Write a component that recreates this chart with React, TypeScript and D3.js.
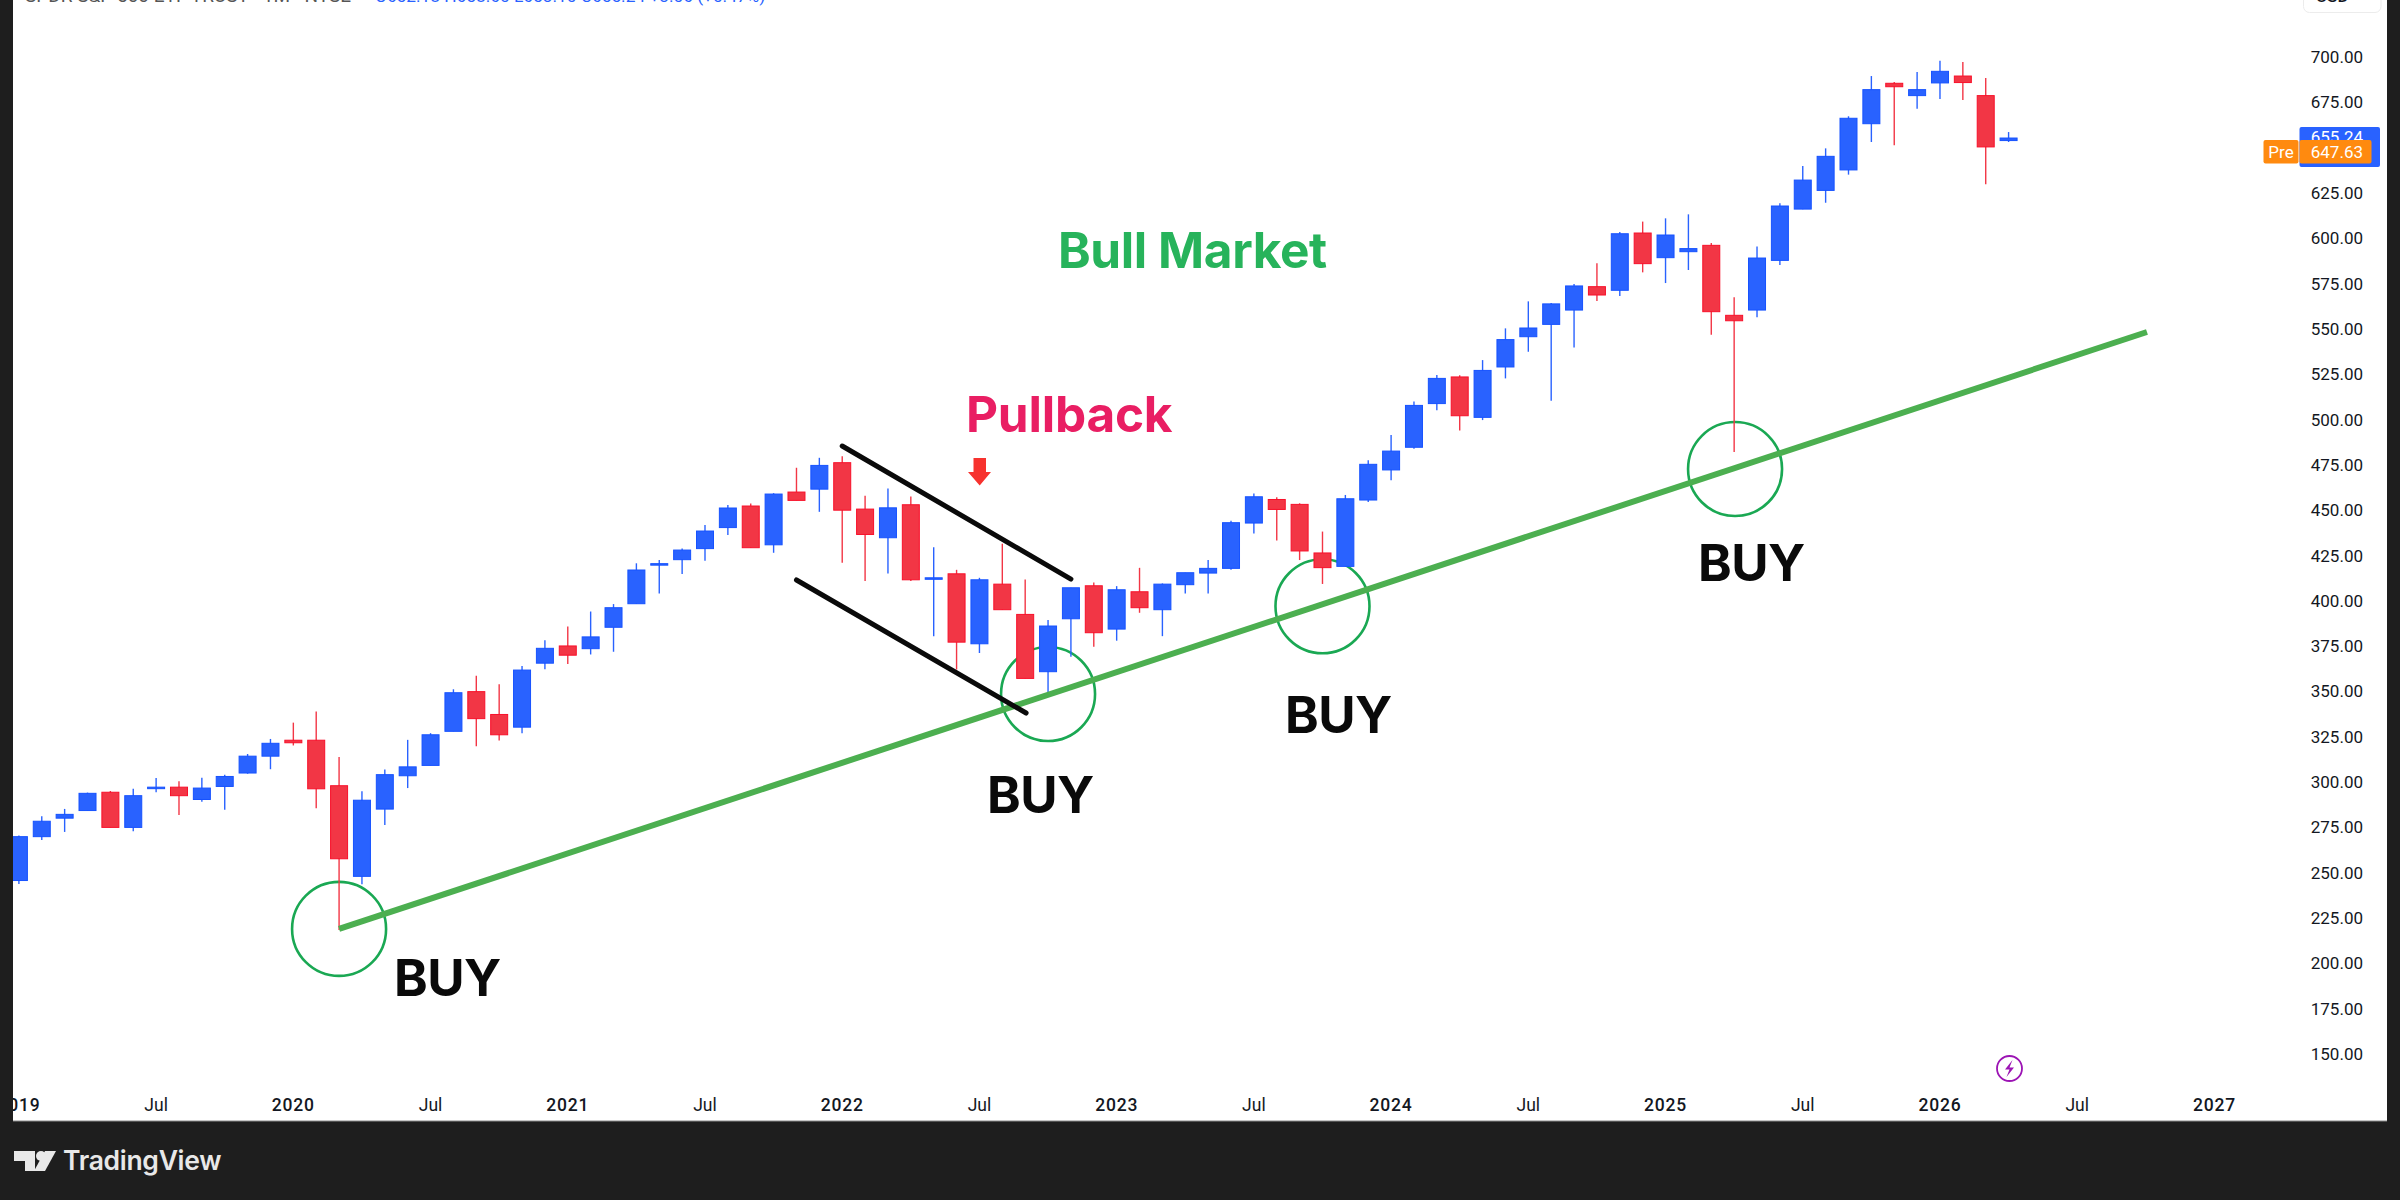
import React from "react";
import * as d3 from "d3";

const opens = [245.7,269.9,280.1,284.3,294.4,275.0,296.5,297.2,290.4,297.6,
305.0,314.3,323.1,323.1,298.0,248.0,285.1,303.5,309.2,328.0,
349.9,337.3,330.3,365.6,375.1,373.6,385.4,398.4,419.9,422.7,
428.8,440.4,452.3,430.9,460.0,461.6,476.2,450.6,434.8,453.0,
412.0,414.9,376.3,409.2,392.5,360.9,390.1,408.3,384.4,405.0,
395.1,408.9,415.3,417.9,442.9,455.9,453.2,426.4,419.0,455.6,
472.2,484.7,508.8,523.5,501.2,529.0,545.7,552.5,560.4,573.3,
571.3,602.9,589.3,592.6,596.1,557.5,560.4,587.8,616.1,626.4,
637.7,663.2,685.5,678.7,685.7,689.5,678.7,653.9];
const highs = [270.5,281.1,285.2,294.2,295.1,296.3,302.2,300.5,302.4,304.1,
315.5,323.8,332.8,339.0,313.9,294.9,306.9,323.3,327.0,351.2,
358.6,354.0,364.1,378.2,385.8,394.1,398.2,420.7,422.5,428.9,
441.8,452.9,453.7,459.4,473.4,478.9,479.8,458.0,462.0,457.6,
429.6,417.1,412.7,431.5,411.8,389.4,407.2,410.1,408.1,418.2,
409.6,415.5,422.5,444.2,459.2,457.2,453.8,438.2,458.4,477.5,
491.5,509.9,524.6,524.4,532.8,550.3,565.2,564.3,574.8,586.2,
603.5,609.2,611.0,613.2,597.4,567.4,595.4,619.3,639.9,649.6,
667.3,689.5,686.2,691.7,698.0,697.2,688.4,658.6];
const lows = [243.8,268.0,272.5,284.3,275.0,272.9,294.4,281.8,289.1,284.7,
304.6,307.1,320.2,285.6,218.4,243.6,276.3,296.7,309.2,328.0,
319.8,322.9,327.0,362.2,365.1,370.4,371.9,398.4,404.1,414.8,
422.1,436.3,429.3,426.5,455.4,449.1,421.0,410.9,415.1,411.0,
380.5,362.1,371.2,395.1,357.2,348.5,369.1,374.6,378.0,393.4,
380.5,404.1,404.1,417.1,437.2,433.3,422.5,409.3,419.0,454.5,
466.5,483.9,505.1,493.9,499.7,522.7,537.4,510.4,539.7,565.4,
568.2,581.2,575.3,582.5,546.8,482.1,556.4,585.3,616.0,619.6,
635.1,653.1,651.3,671.5,676.8,676.3,629.8,653.1];
const closes = [269.9,278.4,282.2,293.8,275.0,292.5,297.2,292.5,296.7,303.1,
314.3,321.4,321.7,296.3,257.7,290.0,304.1,308.4,326.1,349.3,
335.0,326.1,361.8,373.8,370.0,380.1,396.2,417.0,420.5,428.0,
438.5,451.2,429.3,458.9,455.4,474.7,450.0,436.6,451.3,411.6,
412.7,377.2,411.6,395.1,357.2,386.1,407.2,382.4,406.1,396.2,
409.2,415.5,417.9,443.1,457.4,450.4,427.5,418.3,456.3,475.3,
482.6,507.8,522.7,502.1,527.1,544.1,550.5,563.8,573.7,568.7,
602.5,586.0,601.8,594.3,559.5,554.5,589.1,617.8,632.1,645.2,
666.2,682.0,683.6,682.0,692.1,685.9,650.4,655.3];

const priceTicks = [150,175,200,225,250,275,300,325,350,375,400,425,450,475,500,525,550,575,600,625,675,700];
const timeTickIdx = [0,6,12,18,24,30,36,42,48,54,60,66,72,78,84,90,96];
const timeTickLabels = ["2019","Jul","2020","Jul","2021","Jul","2022","Jul","2023","Jul","2024","Jul","2025","Jul","2026","Jul","2027"];

const trendLine: [number, number][] = [[14, 219], [93.05, 548.3]];
const upperChannel: [number, number][] = [[36, 485.4], [46, 412]];
const lowerChannel: [number, number][] = [[34, 411.5], [44.04, 338.1]];
const buyCircles: [number, number][] = [[14, 219], [45, 348.6], [57, 397], [75.04, 472.7]];
const buyLabels = [[394, 996], [987, 813], [1285, 733], [1698, 581]];

const W = 2400, H = 1200;
const F = "Inter, Roboto, sans-serif";
const AX = "Roboto, sans-serif";

export default function App() {
  const x = d3.scaleLinear().domain([0, 87]).range([18.9, 18.9 + 87 * 22.87]);
  const y = d3.scaleLinear().domain([150, 700]).range([1054, 57]);
  const ln = d3.line<[number, number]>().x(d => x(d[0])).y(d => y(d[1]));
  const BLUE = "#2962ff", RED = "#f23645";
  const bw = 17;
  return (
    <svg width={W} height={H} viewBox={`0 0 ${W} ${H}`} style={{ position: "fixed", left: 0, top: 0, display: "block" }}>
      <defs>
        <clipPath id="panel"><rect x={13} y={0} width={2374} height={1121} /></clipPath>
      </defs>
      <rect width={W} height={H} fill="#1e1e1e" />
      <rect x={13} y={0} width={2374} height={1121} fill="#ffffff" />
      <line x1={13} x2={2387} y1={1121} y2={1121} stroke="#8a8a8a" strokeWidth={1} />

      <g clipPath="url(#panel)">
        <text x={25} y={2} fontFamily={AX} fontSize={19} fill="#555">SPDR S&amp;P 500 ETF TRUST · 1M · NYSE</text>
        <text x={375} y={2} fontFamily={AX} fontSize={17.3} fill={BLUE}>O652.18 H658.60 L653.10 C655.24 +3.06 (+0.47%)</text>

        {buyCircles.map((c, i) => (
          <circle key={i} cx={x(c[0])} cy={y(c[1])} r={47} fill="none" stroke="#1aa853" strokeWidth={2.6} />
        ))}

        {opens.map((o, i) => {
          const c = closes[i];
          const col = c >= o ? BLUE : RED;
          const edge = c >= o ? "#1652ff" : "#f8102a";
          const top = y(Math.max(o, c));
          const h = Math.max(y(Math.min(o, c)) - top, 1.5);
          return (
            <g key={i}>
              <line x1={x(i)} x2={x(i)} y1={y(highs[i])} y2={y(lows[i])} stroke={col} strokeWidth={1.4} />
              <rect x={x(i) - bw / 2} y={top} width={bw} height={h} fill={col} stroke={edge} strokeWidth={1} />
            </g>
          );
        })}

        <path d={ln(trendLine) || ""} fill="none" stroke="#4caf50" strokeWidth={6} />
        <path d={ln(upperChannel) || ""} fill="none" stroke="#0a0a0a" strokeWidth={5} strokeLinecap="round" />
        <path d={ln(lowerChannel) || ""} fill="none" stroke="#0a0a0a" strokeWidth={5} strokeLinecap="round" />

        {timeTickIdx.map((t, i) => {
          const major = timeTickLabels[i] !== "Jul";
          return (
            <text key={i} x={x(t)} y={1110.5} textAnchor="middle" fontFamily={AX} fontSize={17.5}
              fontWeight={major ? 500 : 400} letterSpacing={major ? 0.8 : 0} fill="#131722">{timeTickLabels[i]}</text>
          );
        })}
      </g>

      {buyLabels.map((b, i) => (
        <text key={i} x={b[0]} y={b[1]} fontFamily={F} fontWeight={700} fontSize={51} letterSpacing={-0.5} fill="#0a0a0a">BUY</text>
      ))}
      <text x={1058} y={267.5} fontFamily={F} fontWeight={700} fontSize={49.5} letterSpacing={-0.4} fill="#27b35b">Bull Market</text>
      <text x={966} y={431.5} fontFamily={F} fontWeight={700} fontSize={49.5} letterSpacing={-0.2} fill="#e91e63">Pullback</text>
      <path d="M973.5 458H986V472H991L979.7 485.5L968 472H973.5Z" fill="#f7322e" />

      {priceTicks.map(v => (
        <text key={v} x={2363} y={y(v) + 6} textAnchor="end" fontFamily={AX} fontSize={17} fill="#131722">{v.toFixed(2)}</text>
      ))}

      <rect x={2303.5} y={-10} width={77.5} height={22.5} rx={6} fill="#ffffff" stroke="#ececec" strokeWidth={1} />
      <text x={2316} y={2} fontFamily={AX} fontSize={17} fontWeight={500} fill="#131722">USD</text>

      <rect x={2299.5} y={127} width={80.5} height={40} rx={2} fill={BLUE} />
      <text x={2363} y={143} textAnchor="end" fontFamily={AX} fontSize={17} fill="#ffffff">655.24</text>
      <rect x={2263.5} y={140} width={35} height={23.5} rx={2} fill="#ff8a0f" />
      <rect x={2299.5} y={140} width={72} height={23.5} rx={2} fill="#ff8a0f" />
      <text x={2281} y={158} textAnchor="middle" fontFamily={AX} fontSize={17} fill="#ffffff">Pre</text>
      <text x={2363} y={158} textAnchor="end" fontFamily={AX} fontSize={17} fill="#ffffff">647.63</text>

      <circle cx={2009.5} cy={1068.5} r={12.5} fill="#ffffff" stroke="#9c14b4" strokeWidth={1.8} />
      <path d="M2012.5 1060L2005 1069.5H2009.5L2006.5 1077L2014 1067.5H2009.5Z" fill="#9c14b4" />

      <path d="M14 1151H35V1171H25V1161H14Z" fill="#e8e8e8" />
      <circle cx={41} cy={1156} r={5} fill="#e8e8e8" />
      <path d="M45 1151H56L45 1171H34Z" fill="#e8e8e8" />
      <text x={63} y={1170} fontFamily={F} fontWeight={600} fontSize={26.5} letterSpacing={-0.3} fill="#e8e8e8">TradingView</text>
    </svg>
  );
}
